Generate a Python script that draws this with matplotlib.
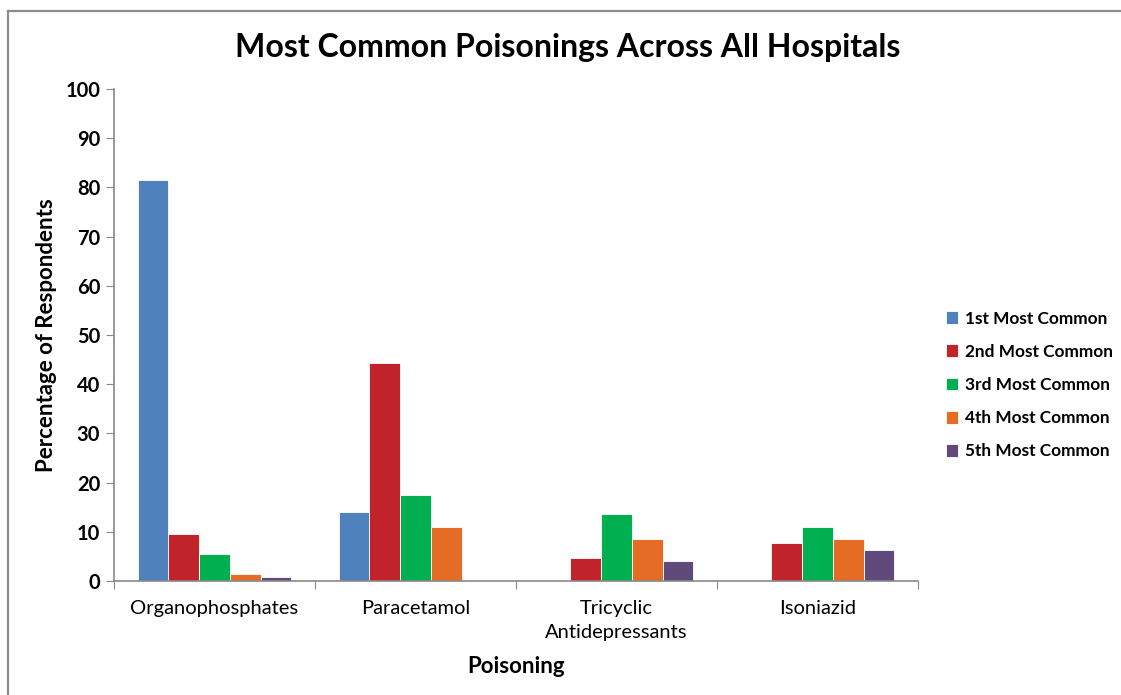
import numpy as np
import matplotlib
matplotlib.use("Agg")
import matplotlib.pyplot as plt
from matplotlib.lines import Line2D

plt.rcParams['font.family'] = ['Lato', 'DejaVu Sans']

categories = ["Organophosphates", "Paracetamol", "Tricyclic\nAntidepressants", "Isoniazid"]
series = ["1st Most Common", "2nd Most Common", "3rd Most Common",
          "4th Most Common", "5th Most Common"]
first = [81.6, 14.1, 0, 0]
second = [9.5, 44.4, 4.6, 7.8]
third = [5.5, 17.4, 13.6, 10.9]
fourth = [1.5, 11.0, 8.6, 8.6]
fifth = [0.9, 0, 4.0, 6.3]
colors = ["#4F81BD", "#C0232A", "#00B050", "#E46C24", "#604A7B"]

fig = plt.figure(figsize=(11.21, 6.95), dpi=100)
ax = fig.add_axes([114 / 1121, 1 - 581 / 695, 804 / 1121, 492 / 695])

x = np.arange(len(categories)) + 0.5
w = 0.766 / 5
for i, vals in enumerate([first, second, third, fourth, fifth]):
    ax.bar(x + (i - 2) * w, vals, w, color=colors[i], label=series[i],
           edgecolor="white", linewidth=0.6)

ax.set_xlim(0, 4)
ax.set_ylim(0, 100)
ax.set_yticks(range(0, 101, 10))
ax.set_xticks(range(0, 5), minor=False)
ax.set_xticklabels([])
ax.set_xticks(x, minor=True)
ax.set_xticklabels(categories, minor=True, fontsize=14.5, color="black",
                   linespacing=1.45)
ax.tick_params(axis="x", which="minor", length=0, pad=14)
ax.tick_params(axis="x", which="major", length=6, direction="out", color="#888888")
ax.tick_params(axis="y", length=6, color="#888888", labelsize=14.5, pad=4)
for lbl in ax.get_yticklabels():
    lbl.set_fontweight("bold")

for s in ["top", "right"]:
    ax.spines[s].set_visible(False)
for s in ["left", "bottom"]:
    ax.spines[s].set_color("#888888")
    ax.spines[s].set_linewidth(1.2)

fig.text(568 / 1121, 1 - 47 / 695, "Most Common Poisonings Across All Hospitals",
         fontsize=23, fontweight="bold", ha="center", va="center")
ax.set_ylabel("Percentage of Respondents", fontsize=16, fontweight="bold", labelpad=6)
ax.set_xlabel("Poisoning", fontsize=16, fontweight="bold", labelpad=11)

ax.legend(loc="center left", bbox_to_anchor=(930 / 1121, 1 - 385 / 695),
          bbox_transform=fig.transFigure, frameon=False,
          handlelength=0.75, handleheight=0.75,
          handletextpad=0.4, labelspacing=1.0,
          prop={"weight": "bold", "size": 12.4})

# outer chart frame
fig.add_artist(Line2D([7.5 / 1121, 1], [1 - 10.5 / 695] * 2, color="#8c8c8c", lw=1.6))
fig.add_artist(Line2D([7.5 / 1121] * 2, [0, 1 - 10.5 / 695], color="#8c8c8c", lw=1.6))

fig.savefig("out.png", dpi=100)
